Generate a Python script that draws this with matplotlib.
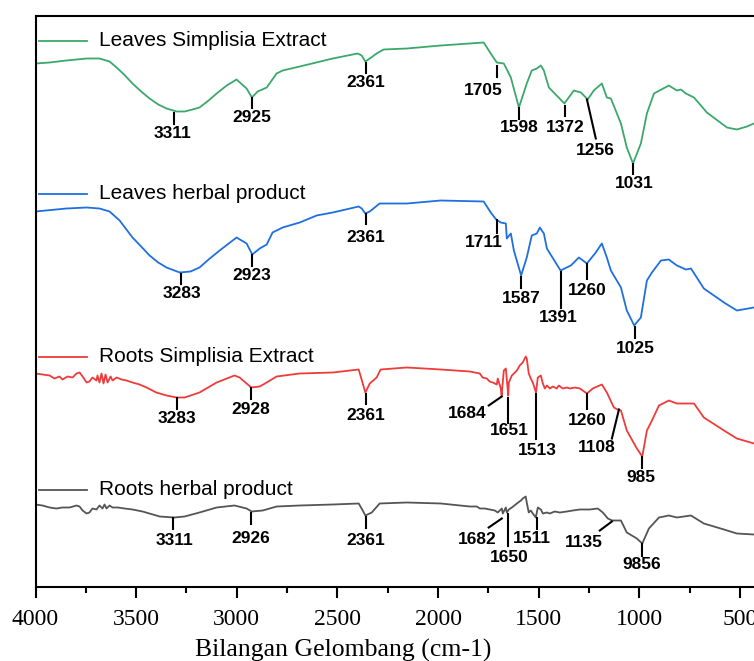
import matplotlib
matplotlib.use('Agg')
from matplotlib import pyplot as plt
from matplotlib.ticker import MultipleLocator

# Spectra (wavenumber cm-1, stacked transmittance in plot units)
leaf_ext_x = [4000, 3930, 3846, 3746, 3682, 3632, 3597, 3560, 3518, 3475, 3433, 3390, 3349, 3299,
              3259, 3220, 3185, 3140, 3100, 3050, 3001, 2951, 2925, 2896, 2851, 2837, 2802, 2772,
              2687, 2523, 2399, 2379, 2361, 2339, 2305, 2270, 2155, 1986, 1773, 1738, 1708, 1673,
              1638, 1598, 1559, 1534, 1509, 1489, 1474, 1449, 1372, 1325, 1290, 1256, 1226, 1186,
              1161, 1141, 1091, 1062, 1031, 992, 962, 927, 853, 813, 793, 768, 728, 664, 564, 515,
              465, 430]
leaf_ext_y = [523, 524, 526, 528, 528, 525, 519, 512, 503, 495, 488, 482, 478, 475,
              475, 477, 479, 486, 493, 501, 507, 498, 489, 495, 499, 503, 513, 516,
              520, 528, 533, 531, 525, 528, 533, 537, 538, 541, 544, 533, 524, 523,
              509, 479, 503, 516, 518, 521, 516, 499, 483, 496, 494, 487, 496, 503,
              489, 488, 463, 439, 423, 443, 473, 493, 501, 496, 497, 493, 489, 474, 459, 457,
              460, 463]

leaf_herb_x = [4000, 3846, 3746, 3682, 3632, 3582, 3518, 3475, 3433, 3390, 3349, 3283, 3230, 3185,
               3140, 3085, 3001, 2951, 2923, 2886, 2851, 2822, 2772, 2687, 2603, 2523, 2394, 2379,
               2361, 2339, 2290, 2155, 1986, 1773, 1738, 1711, 1688, 1663, 1658, 1638, 1623, 1587,
               1559, 1534, 1509, 1494, 1474, 1459, 1391, 1340, 1300, 1260, 1216, 1186, 1161, 1141,
               1091, 1062, 1025, 992, 962, 937, 892, 853, 813, 768, 743, 679, 579, 515, 430]
leaf_herb_y = [375, 378, 379, 378, 375, 366, 349, 340, 331, 324, 319, 314, 315, 319,
               327, 336, 349, 343, 332, 338, 342, 354, 359, 364, 371, 374, 380, 378,
               373, 375, 383, 383, 386, 385, 374, 367, 364, 363, 348, 353, 336, 311,
               329, 351, 353, 359, 353, 338, 316, 321, 329, 323, 334, 343, 329, 316,
               299, 276, 261, 269, 306, 314, 326, 327, 321, 317, 318, 298, 284, 276, 279]

root_ext_x = [4000, 3965, 3930, 3906, 3881, 3866, 3841, 3816, 3796, 3781, 3766, 3746, 3732, 3717,
              3697, 3692, 3682, 3672, 3662, 3652, 3642, 3627, 3617, 3597, 3572, 3548, 3518, 3483,
              3448, 3400, 3349, 3299, 3259, 3185, 3100, 3011, 2986, 2951, 2928, 2886, 2851, 2802,
              2687, 2523, 2394, 2374, 2361, 2339, 2305, 2285, 2155, 1986, 1842, 1817, 1792, 1778,
              1758, 1743, 1728, 1708, 1703, 1688, 1684, 1673, 1663, 1651, 1648, 1633, 1608, 1594,
              1579, 1564, 1559, 1549, 1539, 1529, 1513, 1504, 1489, 1479, 1469, 1459, 1444, 1429,
              1410, 1400, 1380, 1360, 1345, 1320, 1295, 1260, 1231, 1186, 1161, 1126, 1108, 1091,
              1062, 1012, 985, 962, 937, 902, 853, 813, 768, 728, 679, 579, 515, 430]
root_ext_y = [213, 212, 211, 208, 210, 207, 210, 209, 213, 214, 210, 204, 205, 209,
              206, 211, 204, 213, 203, 212, 204, 210, 206, 209, 207, 206, 204, 202,
              199, 194, 191, 189, 189, 194, 204, 211, 209, 203, 199, 200, 204, 210,
              213, 214, 217, 203, 194, 203, 209, 217, 219, 217, 215, 214, 213, 209,
              208, 205, 204, 202, 208, 198, 191, 216, 218, 191, 204, 211, 216, 221,
              224, 230, 228, 213, 208, 204, 194, 209, 211, 203, 198, 201, 198, 200,
              198, 201, 198, 199, 198, 199, 198, 193, 198, 202, 194, 179, 177, 176,
              156, 138, 130, 156, 166, 181, 186, 183, 183, 183, 169, 156, 148, 143]

root_herb_x = [4000, 3965, 3930, 3896, 3866, 3831, 3796, 3781, 3766, 3746, 3732, 3717, 3697, 3682,
               3667, 3657, 3647, 3632, 3617, 3592, 3557, 3518, 3468, 3383, 3311, 3259, 3185, 3100,
               3011, 2951, 2926, 2871, 2802, 2687, 2523, 2394, 2374, 2361, 2329, 2290, 2155, 1986,
               1842, 1807, 1792, 1768, 1743, 1718, 1703, 1683, 1678, 1663, 1658, 1648, 1633, 1608,
               1588, 1579, 1564, 1559, 1549, 1539, 1529, 1514, 1504, 1489, 1479, 1459, 1444, 1420,
               1395, 1360, 1330, 1295, 1246, 1206, 1181, 1156, 1135, 1091, 1062, 1012, 985, 952,
               902, 853, 813, 743, 679, 579, 515, 430]
root_herb_y = [82, 81, 79, 78, 79, 79, 81, 80, 76, 73, 74, 78, 77, 81,
               78, 82, 78, 81, 79, 79, 78, 77, 75, 70, 69, 70, 74, 79,
               81, 78, 75, 76, 80, 81, 82, 83, 76, 71, 74, 83, 84, 83,
               80, 80, 78, 78, 77, 76, 74, 78, 73, 79, 74, 77, 79, 83,
               86, 88, 90, 84, 74, 76, 73, 69, 79, 77, 73, 74, 73, 75,
               74, 75, 76, 77, 77, 78, 74, 68, 66, 66, 54, 48, 43, 58,
               69, 71, 69, 71, 63, 57, 53, 52]

names = ['Leaves Simplisia Extract', 'Leaves herbal product',
         'Roots Simplisia Extract', 'Roots herbal product']
colors = ['#3ba86b', '#1f6fe0', '#ee3b3b', '#555555']
legend_y = [546, 393, 230, 97]

# peak labels: text, line x0, y0, x1, y1, text x, text y
peaks = [
    [('3311', 3314, 474, 3314, 463, 3319, 453), ('2925', 2926, 489, 2926, 479, 2926, 469),
     ('2361', 2359, 524, 2359, 514, 2359, 504), ('1705', 1708, 521, 1708, 510, 1773, 496),
     ('1598', 1598, 479, 1598, 468, 1594, 459), ('1372', 1370, 481, 1370, 471, 1370, 459),
     ('1256', 1260, 487, 1216, 448, 1216, 436), ('1031', 1032, 423, 1032, 413, 1027, 403)],
    [('3283', 3279, 313, 3279, 303, 3274, 293), ('2923', 2926, 332, 2926, 321, 2926, 311),
     ('2361', 2359, 373, 2359, 363, 2359, 349), ('1711', 1708, 367, 1708, 354, 1773, 344),
     ('1587', 1588, 310, 1588, 299, 1588, 288), ('1391', 1390, 315, 1390, 279, 1400, 269),
     ('1260', 1260, 323, 1260, 308, 1260, 296), ('1025', 1022, 260, 1022, 249, 1022, 238)],
    [('3283', 3299, 189, 3299, 178, 3299, 168), ('2928', 2931, 199, 2931, 188, 2931, 177),
     ('2361', 2359, 193, 2359, 183, 2359, 171), ('1684', 1683, 190, 1748, 181, 1857, 173),
     ('1651', 1653, 189, 1653, 164, 1648, 156), ('1513', 1514, 193, 1514, 148, 1509, 136),
     ('1260', 1260, 193, 1260, 178, 1260, 166), ('1108', 1101, 177, 1136, 148, 1211, 139),
     ('985', 987, 130, 987, 119, 992, 109)],
    [('3311', 3319, 69, 3319, 58, 3309, 46), ('2926', 2931, 74, 2931, 63, 2931, 48),
     ('2361', 2359, 70, 2359, 59, 2359, 46), ('1682', 1683, 68, 1748, 59, 1807, 47),
     ('1650', 1653, 73, 1653, 41, 1648, 29), ('1511', 1509, 69, 1509, 58, 1534, 48),
     ('1135', 1136, 65, 1196, 56, 1275, 44), ('9856', 987, 43, 987, 31, 987, 22)],
]

xs = [leaf_ext_x, leaf_herb_x, root_ext_x, root_herb_x]
ys = [leaf_ext_y, leaf_herb_y, root_ext_y, root_herb_y]

fig = plt.figure(figsize=(7.54, 6.61), dpi=100)
ax = fig.add_axes([35.5 / 754, 74.5 / 661, 724.5 / 754, 571 / 661])

for i in range(4):
    ax.plot(xs[i], ys[i], color=colors[i], lw=1.3)
    # legend-like label above each trace
    ax.plot([3985, 3746], [legend_y[i], legend_y[i]], color=colors[i], lw=1.3)
    ax.text(3682, legend_y[i], names[i], fontsize=15, family='Liberation Sans',
            va='center', ha='left')
    for t, x0, y0, x1, y1, tx, ty in peaks[i]:
        ax.plot([x0, x1], [y0, y1], color='k', lw=1.5)
        ax.text(tx, ty, t, fontsize=12.5, fontweight='bold', family='Liberation Sans',
                ha='center', va='center')

ax.set_xlim(4000, 400)
ax.set_ylim(0, 571)
ax.xaxis.set_major_locator(MultipleLocator(500))
ax.xaxis.set_minor_locator(MultipleLocator(250))
ax.set_yticks([])
ax.spines['right'].set_visible(False)
for s in ['left', 'bottom', 'top']:
    ax.spines[s].set_linewidth(1.5)
ax.tick_params(axis='x', which='major', length=8, width=1.5, pad=8)
ax.tick_params(axis='x', which='minor', length=4, width=1.5)
for lab in ax.get_xticklabels():
    lab.set_family('Liberation Serif')
    lab.set_fontsize(17)
ax.set_xlabel('Bilangan Gelombang (cm-1)', family='Liberation Serif', fontsize=18.5, va='center')
ax.xaxis.set_label_coords(0.4244, -0.112)

fig.savefig('out.png', dpi=100)
